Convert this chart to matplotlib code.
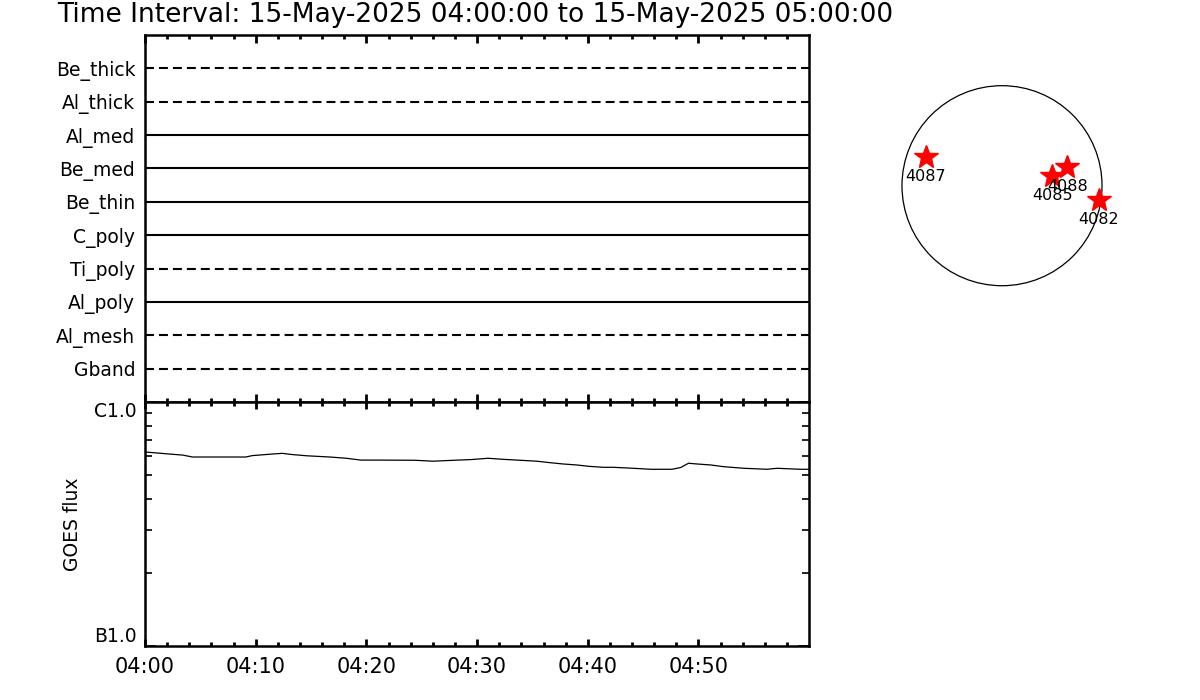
import datetime as dt
import matplotlib
matplotlib.use('Agg')
import matplotlib.pyplot as plt
import matplotlib.dates as mdates
from matplotlib.ticker import FixedLocator, NullFormatter

# channel rows in the top panel, bottom to top
channels = ['Gband', 'Al_mesh', 'Al_poly', 'Ti_poly', 'C_poly',
            'Be_thin', 'Be_med', 'Al_med', 'Al_thick', 'Be_thick']
dashed = [True, True, False, True, False, False, False, False, True, True]

# GOES flux (minutes after 04:00, flux in units of 1e-7 W/m^2)
goes_min = [0.0, 2.2, 3.4, 4.3, 9.1, 9.7, 11.5, 12.4, 13.3, 14.6, 16.7, 18.2,
            19.5, 21.2, 24.4, 26.0, 27.5, 29.5, 31.0, 32.4, 33.9, 35.4, 36.6,
            37.8, 39.0, 40.1, 41.4, 42.3, 44.1, 45.7, 47.6, 48.4, 49.1, 49.9,
            51.1, 52.3, 54.1, 56.2, 57.1, 59.2, 60.0]
goes_flux = [6.24, 6.12, 6.06, 5.95, 5.95, 6.03, 6.12, 6.16, 6.09, 6.02, 5.95,
             5.88, 5.78, 5.78, 5.77, 5.72, 5.76, 5.81, 5.88, 5.82, 5.77, 5.72,
             5.64, 5.57, 5.52, 5.45, 5.40, 5.40, 5.35, 5.30, 5.30, 5.39, 5.61,
             5.57, 5.52, 5.43, 5.35, 5.30, 5.35, 5.30, 5.30]

# active regions on the disk (arcsec)
ar_names = ['4087', '4088', '4085', '4082']
ar_x = [-732, 627, 483, 931]
ar_y = [278, 182, 93, -137]

start = dt.datetime(2025, 5, 15, 4, 0, 0)
end = start + dt.timedelta(minutes=59, seconds=59)
times = [start + dt.timedelta(minutes=m) for m in goes_min]
flux = [f * 1e-7 for f in goes_flux]

fs = 13.5
fig = plt.figure(figsize=(12, 7), dpi=100)

fig.text(57 / 1200, 1 - 15 / 700, 'Time Interval: 15-May-2025 04:00:00 to 15-May-2025 05:00:00',
         fontsize=19, ha='left', va='center')

ax1 = fig.add_axes([145 / 1200, 1 - 402 / 700, 664 / 1200, 367 / 700])
ax2 = fig.add_axes([145 / 1200, 1 - 646 / 700, 664 / 1200, 244 / 700])


def time_ticks(ax, major_len, minor_len):
    ax.set_xlim(start, end)
    ax.xaxis.set_major_locator(mdates.MinuteLocator(byminute=range(0, 60, 10)))
    ax.xaxis.set_minor_locator(mdates.MinuteLocator(byminute=range(0, 60, 2)))
    ax.xaxis.set_major_formatter(mdates.DateFormatter('%H:%M'))
    ax.tick_params(axis='x', which='major', direction='in', top=True, bottom=True,
                   length=major_len, width=2)
    ax.tick_params(axis='x', which='minor', direction='in', top=True, bottom=True,
                   length=minor_len, width=2)


for ax in (ax1, ax2):
    for s in ax.spines.values():
        s.set_linewidth(1.8)

# top panel: channel lines
for i, (name, dsh) in enumerate(zip(channels, dashed)):
    ls = (0, (4.3, 2.4)) if dsh else '-'
    ax1.plot([start, end], [i + 1, i + 1], color='black', lw=1.5, linestyle=ls)
ax1.set_ylim(0, len(channels) + 1)
ax1.set_yticks(range(1, len(channels) + 1))
ax1.set_yticklabels(channels, fontsize=fs)
ax1.tick_params(axis='y', length=0, pad=7)
time_ticks(ax1, 6, 3)
ax1.tick_params(axis='x', labelbottom=False)

# bottom panel: GOES flux
ax2.plot(times, flux, color='black', lw=0.9)
ax2.set_yscale('log')
ax2.set_ylim(1e-7, 1e-6)
ax2.yaxis.set_major_locator(FixedLocator([1e-7, 1e-6]))
ax2.set_yticklabels(['B1.0', 'C1.0'], fontsize=fs)
ax2.get_yticklabels()[0].set_va('bottom')
ax2.get_yticklabels()[1].set_va('top')
ax2.yaxis.set_minor_locator(FixedLocator([k * 1e-7 for k in range(2, 10)]))
ax2.yaxis.set_minor_formatter(NullFormatter())
ax2.tick_params(axis='y', which='both', direction='in', left=True, right=True,
                width=1.2, pad=6)
ax2.tick_params(axis='y', which='major', length=8)
ax2.tick_params(axis='y', which='minor', length=5)
ax2.set_ylabel('GOES flux', fontsize=fs, labelpad=9)
time_ticks(ax2, 5, 3)
ax2.tick_params(axis='x', which='major', labelsize=15, pad=8)

# solar disk
ax3 = fig.add_axes([890 / 1200, 1 - 297.7 / 700, 224 / 1200, 224 / 700])
ax3.add_patch(plt.Circle((0, 0), 960, fill=False, color='black', lw=0.9))
ax3.plot(ar_x, ar_y, linestyle='none', marker='*', color='red', ms=18, mec='red')
for name, x, y in zip(ar_names, ar_x, ar_y):
    ax3.text(x, y - 190, name, fontsize=11.5, ha='center', va='center')
ax3.set_xlim(-1075, 1075)
ax3.set_ylim(-1075, 1075)
ax3.set_aspect('equal')
ax3.axis('off')

fig.savefig('out.png', dpi=100)
